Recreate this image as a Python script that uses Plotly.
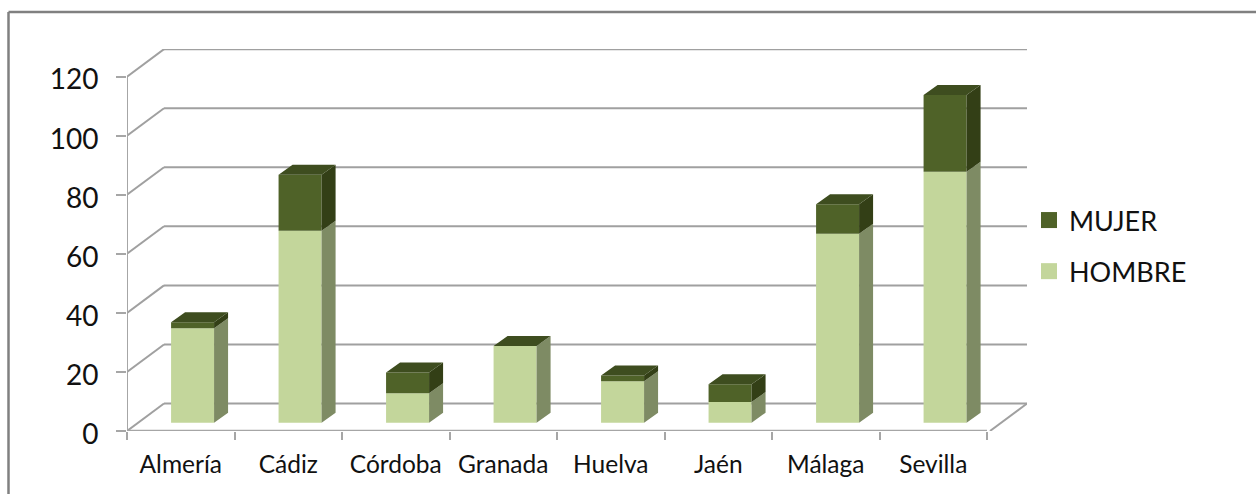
import plotly.graph_objects as go

provincias = ["Almería", "Cádiz", "Córdoba", "Granada", "Huelva", "Jaén", "Málaga", "Sevilla"]
hombre = [32, 65, 10, 26, 14, 7, 64, 85]
mujer = [2, 19, 7, 0, 2, 6, 10, 26]
y_ticks = [0, 20, 40, 60, 80, 100, 120]

LIGHT, LIGHT_SIDE = "#C3D69B", "#7E8B64"
DARK, DARK_SIDE, DARK_TOP = "#4F6228", "#333F16", "#3E4D1F"
GRID, AXIS, BORDER = "#A0A0A0", "#A6A6A6", "#808080"
FONT = "Lato"

W, H = 1256, 494
L, R, T, B = 127, 1027, 49, 431
CAT_PX = 107.5
UNIT_PX = 2.953
x_range = [-0.5, (R - L) / CAT_PX - 0.5]
y_range = [0, (B - T) / UNIT_PX]

# depth of the floor, and of a bar, in axis units
WALL_DX, WALL_DY = 37 / CAT_PX, 27.5 / UNIT_PX
BASE = 8.3 / UNIT_PX
BAR_OFFSET, BAR_W = -0.09, 0.4
SIDE_DX, SIDE_DY = 14 / CAT_PX, 10 / UNIT_PX

fig = go.Figure()
common = dict(width=BAR_W, offset=BAR_OFFSET, showlegend=False, hoverinfo="x+y")
fig.add_bar(x=provincias, y=hombre, base=[BASE] * 8, marker=dict(color=LIGHT, line_width=0), name="HOMBRE", **common)
fig.add_bar(x=provincias, y=mujer, base=[BASE + v for v in hombre], marker=dict(color=DARK, line_width=0), name="MUJER", **common)

light_x, light_y, dark_x, dark_y, top_x, top_y = [], [], [], [], [], []
for i, (h, m) in enumerate(zip(hombre, mujer)):
    x0 = i + BAR_OFFSET
    x1 = x0 + BAR_W
    y0, y1, y2 = BASE, BASE + h, BASE + h + m
    light_x += [x1, x1 + SIDE_DX, x1 + SIDE_DX, x1, x1, None]
    light_y += [y0, y0 + SIDE_DY, y1 + SIDE_DY, y1, y0, None]
    if m:
        dark_x += [x1, x1 + SIDE_DX, x1 + SIDE_DX, x1, x1, None]
        dark_y += [y1, y1 + SIDE_DY, y2 + SIDE_DY, y2, y1, None]
    top_x += [x0, x1, x1 + SIDE_DX, x0 + SIDE_DX, x0, None]
    top_y += [y2, y2, y2 + SIDE_DY, y2 + SIDE_DY, y2, None]

for fx, fy, col in [(light_x, light_y, LIGHT_SIDE), (dark_x, dark_y, DARK_SIDE), (top_x, top_y, DARK_TOP)]:
    fig.add_scatter(x=fx, y=fy, xaxis="x2", yaxis="y", mode="lines", fill="toself",
                    fillcolor=col, line=dict(width=0, color=col), showlegend=False, hoverinfo="skip")

# legend entries, in the reference's order
fig.add_scatter(x=[None], y=[None], xaxis="x2", mode="markers", name="MUJER", legendgroup="a",
                marker=dict(symbol="square", size=17, color=DARK))
fig.add_scatter(x=[None], y=[None], xaxis="x2", mode="markers", name="HOMBRE", legendgroup="b",
                marker=dict(symbol="square", size=17, color=LIGHT))

shapes = []
xa, xb = x_range[0], x_range[1]
for v in y_ticks:
    shapes.append(dict(type="line", xref="x2", yref="y", layer="below", x0=xa, y0=v, x1=xa + WALL_DX, y1=v + WALL_DY,
                       line=dict(color=GRID, width=2)))
    shapes.append(dict(type="line", xref="x2", yref="y", layer="below", x0=xa + WALL_DX, y0=v + WALL_DY, x1=xb, y1=v + WALL_DY,
                       line=dict(color=GRID, width=2)))
shapes.append(dict(type="line", xref="x2", yref="y", layer="below", x0=xb - WALL_DX, y0=0, x1=xb, y1=WALL_DY,
                   line=dict(color=GRID, width=2)))
# the axis lines stop at the last tick
shapes.append(dict(type="line", xref="x2", yref="y", layer="below", x0=xa, y0=0, x1=xa, y1=y_ticks[-1],
                   line=dict(color=AXIS, width=2)))
shapes.append(dict(type="line", xref="x2", yref="y", layer="below", x0=xa, y0=0, x1=len(provincias) - 0.5, y1=0,
                   line=dict(color=AXIS, width=2.5)))

# outer frame: top and left edges only
pw, ph = R - L, B - T
fx = (8.5 - L) / pw
fy = 1 - (12 - T) / ph
shapes.append(dict(type="line", xref="paper", yref="paper", x0=fx, y0=fy, x1=(W - L) / pw, y1=fy, line=dict(color=BORDER, width=2.5)))
shapes.append(dict(type="line", xref="paper", yref="paper", x0=fx, y0=fy, x1=fx, y1=1 - (H - T) / ph, line=dict(color=BORDER, width=2.5)))

fig.update_layout(
    width=W, height=H,
    margin=dict(l=L, r=W - R, t=T, b=H - B, pad=0),
    autosize=False,
    paper_bgcolor="white", plot_bgcolor="rgba(0,0,0,0)",
    barmode="overlay",
    shapes=shapes,
    font=dict(family=FONT, color="#111111"),
    xaxis=dict(type="category", categoryorder="array", categoryarray=provincias, range=x_range,
               tickson="boundaries", ticks="outside", ticklen=8, tickwidth=2, tickcolor=AXIS,
               showline=False, showgrid=False, zeroline=False,
               tickfont=dict(size=24.5, family=FONT), ticklabelstandoff=16),
    xaxis2=dict(overlaying="x", anchor="y", range=x_range, visible=False),
    yaxis=dict(range=y_range, tickvals=y_ticks, ticks="outside", ticklen=10, tickwidth=2, tickcolor=AXIS,
               showline=False, showgrid=False, zeroline=False,
               tickfont=dict(size=28, family=FONT), ticklabelstandoff=12, ticklabelshift=3),
    legend=dict(x=(1029 - L) / pw, y=1 - (196 - T) / ph, xanchor="left", yanchor="top",
                font=dict(size=27, family=FONT), tracegroupgap=13, itemwidth=30, traceorder="grouped",
                bgcolor="rgba(0,0,0,0)"),
)

fig.write_html("out.html", config=dict(displayModeBar=False),
               post_script="document.body.style.margin='0';window.dispatchEvent(new Event('resize'));")
